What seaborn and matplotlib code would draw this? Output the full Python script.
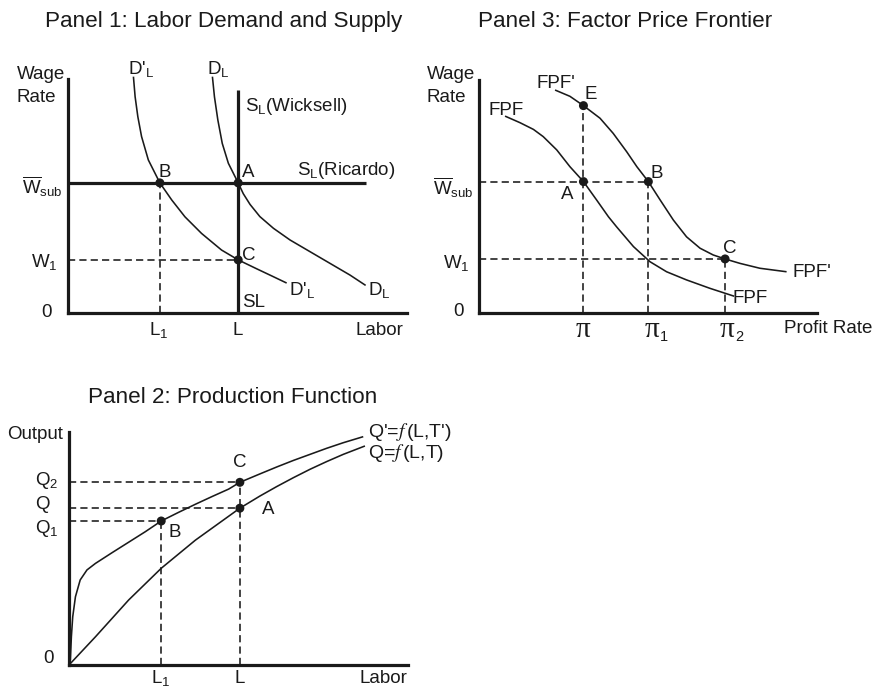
import numpy as np
import pandas as pd
import matplotlib
matplotlib.use("Agg")
import matplotlib.pyplot as plt
import seaborn as sns

# ---------------- data (abstract units, axes run 0..10) ----------------
# Panel 1: Labor demand and supply
p1_wsub, p1_w1, p1_l1, p1_l = 5.56, 2.27, 2.71, 5.02
p1_wicksell_top, p1_ricardo_end = 9.53, 8.79
p1_dlp_x = [1.93, 1.98, 2.06, 2.17, 2.37, 2.71, 3.06, 3.45, 3.94, 4.53, 5.02, 5.55, 6.06, 6.45]
p1_dlp_y = [10.10, 9.24, 8.39, 7.54, 6.54, 5.56, 4.83, 4.11, 3.40, 2.69, 2.27, 1.90, 1.55, 1.28]
p1_dl_x = [4.26, 4.32, 4.42, 4.55, 4.73, 5.02, 5.17, 5.37, 5.66, 6.06, 6.55, 7.14, 7.73, 8.32, 8.78]
p1_dl_y = [10.10, 9.24, 8.25, 7.25, 6.40, 5.56, 5.10, 4.64, 4.12, 3.62, 3.12, 2.62, 2.12, 1.62, 1.18]

# Panel 3: Factor price frontier
p3_wsub, p3_w1 = 5.64, 2.32
p3_pi, p3_pi1, p3_pi2 = 3.09, 5.01, 7.28
p3_e = 8.90
p3_fpf_x = [0.77, 1.21, 1.61, 1.90, 2.30, 2.69, 3.09, 3.48, 3.83, 4.07, 4.57, 5.06, 5.55, 6.14, 6.83, 7.55]
p3_fpf_y = [8.45, 8.17, 7.88, 7.57, 7.00, 6.28, 5.64, 4.85, 4.13, 3.70, 2.85, 2.20, 1.77, 1.42, 1.06, 0.72]
p3_fpfp_x = [2.25, 2.69, 3.09, 3.58, 3.97, 4.37, 4.67, 5.01, 5.36, 5.75, 6.14, 6.54, 6.93, 7.28, 7.72, 8.31, 9.10]
p3_fpfp_y = [9.57, 9.30, 8.90, 8.36, 7.71, 6.92, 6.28, 5.64, 4.85, 3.99, 3.27, 2.78, 2.49, 2.32, 2.13, 1.92, 1.77]

# Panel 2: Production function
p2_q2, p2_q, p2_q1 = 7.84, 6.73, 6.18
p2_l1, p2_l = 2.72, 5.04
p2_qp_x = [0.00, 0.04, 0.07, 0.11, 0.19, 0.33, 0.53, 0.78, 1.27, 1.76, 2.25, 2.72,
           3.23, 3.73, 4.22, 4.71, 5.04, 5.63, 6.13, 6.62, 7.11, 7.60, 8.09, 8.68]
p2_qp_y = [0.00, 0.21, 1.21, 2.07, 2.93, 3.65, 4.08, 4.36, 4.82, 5.27, 5.72, 6.18,
           6.55, 6.90, 7.23, 7.55, 7.84, 8.20, 8.50, 8.78, 9.04, 9.30, 9.54, 9.80]
p2_q_x = [0.00, 0.78, 1.76, 2.72, 3.73, 5.04, 5.63, 6.13, 6.62, 7.11, 7.60, 8.09, 8.73]
p2_q_y = [0.00, 1.21, 2.79, 4.15, 5.36, 6.73, 7.25, 7.66, 8.04, 8.40, 8.73, 9.04, 9.40]

# ---------------- style ----------------
sns.set_theme(style="white")
plt.rcParams["font.family"] = ["Liberation Sans", "DejaVu Sans"]
plt.rcParams["mathtext.fontset"] = "custom"
plt.rcParams["mathtext.rm"] = "Liberation Sans"
plt.rcParams["mathtext.it"] = "Liberation Sans:italic"
plt.rcParams["mathtext.bf"] = "Liberation Sans:bold"
plt.rcParams["mathtext.sf"] = "Liberation Sans"

W, H, DPI = 877, 689, 100
fig = plt.figure(figsize=(W / DPI, H / DPI), dpi=DPI)
fig.patch.set_facecolor("white")

INK = "#1a1a1a"
CURVE_LW = 1.15
THICK_LW = 2.3
DASH = (0, (4.5, 2.6))
FS = 13.5
TFS = 16.2


def panel(ox, oy, sx, sy):
    ax = fig.add_axes([0, 0, 1, 1])
    ax.set_xlim(-ox / sx, (W - ox) / sx)
    ax.set_ylim(-(H - oy) / sy, oy / sy)
    ax.patch.set_alpha(0)
    ax.set_xticks([])
    ax.set_yticks([])
    for s in ("top", "right"):
        ax.spines[s].set_visible(False)
    for s in ("left", "bottom"):
        sp = ax.spines[s]
        sp.set_position(("data", 0))
        sp.set_bounds(0, 10)
        sp.set_linewidth(THICK_LW)
        sp.set_color(INK)
        sp.set_capstyle("projecting")
    return ax


def curve(ax, xs, ys):
    df = pd.DataFrame({"x": xs, "y": ys})
    sns.lineplot(data=df, x="x", y="y", ax=ax, sort=False, estimator=None,
                 color=INK, lw=CURVE_LW, solid_capstyle="butt",
                 solid_joinstyle="round")
    ax.set_xlabel("")
    ax.set_ylabel("")


def dots(ax, xs, ys):
    df = pd.DataFrame({"x": xs, "y": ys})
    sns.scatterplot(data=df, x="x", y="y", ax=ax, color=INK, s=42,
                    edgecolor="none", zorder=5)
    ax.set_xlabel("")
    ax.set_ylabel("")


def txt(px, py, s, ha="left", va="baseline", size=FS, **kw):
    fig.text(px / W, 1 - py / H, s, ha=ha, va=va, fontsize=size, color=INK, **kw)


WSUB = r"$\overline{\mathrm{W}}_{\mathrm{sub}}$"
W1 = r"$\mathrm{W}_{1}$"
DLP = r"D'$_{\mathrm{L}}$"
DL = r"D$_{\mathrm{L}}$"
L1 = r"L$_{1}$"

# ---------------- Panel 1 ----------------
ax1 = panel(68, 313, 33.9, 23.4)
ax1.vlines(p1_l, 0, p1_wicksell_top, color=INK, lw=THICK_LW)
ax1.hlines(p1_wsub, 0, p1_ricardo_end, color=INK, lw=THICK_LW)
ax1.vlines(p1_l1, 0, p1_wsub, color=INK, lw=CURVE_LW, linestyles=DASH)
ax1.hlines(p1_w1, 0, p1_l, color=INK, lw=CURVE_LW, linestyles=DASH)
curve(ax1, p1_dlp_x, p1_dlp_y)
curve(ax1, p1_dl_x, p1_dl_y)
dots(ax1, [p1_l1, p1_l, p1_l], [p1_wsub, p1_wsub, p1_w1])

txt(224, 27, "Panel 1: Labor Demand and Supply", ha="center", size=TFS)
txt(17, 79, "Wage")
txt(17, 102, "Rate")
txt(128, 74, DLP)
txt(207, 74, DL)
txt(245, 111, r"S$_{\mathrm{L}}$(Wicksell)")
txt(297, 175, r"S$_{\mathrm{L}}$(Ricardo)")
txt(158, 177, "B")
txt(242, 177, "A")
txt(62, 194, WSUB, ha="right")
txt(58, 267, W1, ha="right")
txt(242, 260, "C")
txt(47, 317, "0", ha="center")
txt(289, 295, DLP)
txt(368, 295, DL)
txt(242, 307, "SL")
txt(159, 335, L1, ha="center")
txt(238, 335, "L", ha="center")
txt(403, 335, "Labor", ha="right")

# ---------------- Panel 3 ----------------
ax3 = panel(479, 313, 33.8, 23.3)
ax3.vlines(p3_pi, 0, p3_e, color=INK, lw=CURVE_LW, linestyles=DASH)
ax3.vlines(p3_pi1, 0, p3_wsub, color=INK, lw=CURVE_LW, linestyles=DASH)
ax3.vlines(p3_pi2, 0, p3_w1, color=INK, lw=CURVE_LW, linestyles=DASH)
ax3.hlines(p3_wsub, 0, p3_pi1, color=INK, lw=CURVE_LW, linestyles=DASH)
ax3.hlines(p3_w1, 0, p3_pi2, color=INK, lw=CURVE_LW, linestyles=DASH)
curve(ax3, p3_fpf_x, p3_fpf_y)
curve(ax3, p3_fpfp_x, p3_fpfp_y)
dots(ax3, [p3_pi, p3_pi, p3_pi1, p3_pi2], [p3_e, p3_wsub, p3_wsub, p3_w1])

txt(625, 27, "Panel 3: Factor Price Frontier", ha="center", size=TFS)
txt(427, 79, "Wage")
txt(427, 102, "Rate")
txt(537, 88, "FPF'")
txt(585, 99, "E")
txt(488, 115, "FPF")
txt(473, 195, WSUB, ha="right")
txt(561, 199, "A")
txt(650, 178, "B")
txt(723, 253, "C")
txt(470, 268, W1, ha="right")
txt(459, 316, "0", ha="center")
txt(793, 277, "FPF'")
txt(733, 303, "FPF")
PI_FS = 21
txt(583, 337, "π", ha="center", size=PI_FS, family="Liberation Serif")
txt(652, 337, "π", ha="center", size=PI_FS, family="Liberation Serif")
txt(660, 341, "1", size=10.5)
txt(727, 337, "π", ha="center", size=PI_FS, family="Liberation Serif")
txt(735, 341, "2", size=10.5)
txt(784, 333, "Profit Rate")

# ---------------- Panel 2 ----------------
ax2 = panel(69, 665, 33.9, 23.3)
ax2.hlines(p2_q2, 0, p2_l, color=INK, lw=CURVE_LW, linestyles=DASH)
ax2.hlines(p2_q, 0, p2_l, color=INK, lw=CURVE_LW, linestyles=DASH)
ax2.hlines(p2_q1, 0, p2_l1, color=INK, lw=CURVE_LW, linestyles=DASH)
ax2.vlines(p2_l1, 0, p2_q1, color=INK, lw=CURVE_LW, linestyles=DASH)
ax2.vlines(p2_l, 0, p2_q2, color=INK, lw=CURVE_LW, linestyles=DASH)
curve(ax2, p2_qp_x, p2_qp_y)
curve(ax2, p2_q_x, p2_q_y)
dots(ax2, [p2_l1, p2_l, p2_l], [p2_q1, p2_q2, p2_q])

txt(233, 403, "Panel 2: Production Function", ha="center", size=TFS)
txt(7, 439, "Output")
txt(35, 485, r"Q$_{2}$")
txt(35, 509, "Q")
txt(35, 533, r"Q$_{1}$")
txt(240, 467, "C", ha="center")
txt(262, 514, "A")
txt(168, 537, "B")
txt(48, 663, "0", ha="center")
txt(161, 683, L1, ha="center")
txt(240, 683, "L", ha="center")
txt(407, 683, "Labor", ha="right")
txt(368, 437, r"Q'=$f\,$(L,T')", size=14, math_fontfamily="stix")
txt(368, 458, r"Q=$f\,$(L,T)", size=14, math_fontfamily="stix")

fig.savefig("out.png", dpi=DPI, facecolor="white")
